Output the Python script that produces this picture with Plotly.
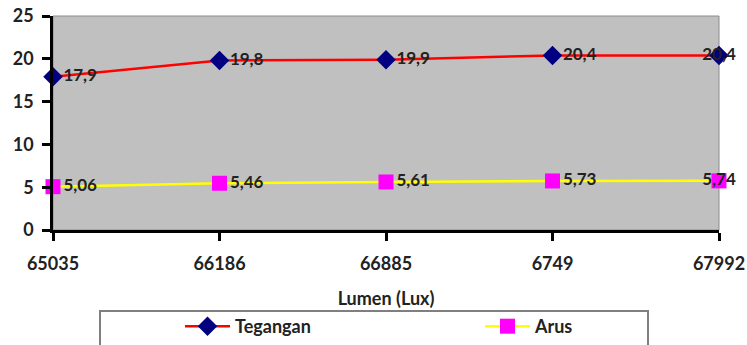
import plotly.graph_objects as go

categories = ["65035", "66186", "66885", "6749", "67992"]
tegangan = [17.9, 19.8, 19.9, 20.4, 20.4]
arus = [5.06, 5.46, 5.61, 5.73, 5.74]
tegangan_labels = ["17,9", "19,8", "19,9", "20,4", "20,4"]
arus_labels = ["5,06", "5,46", "5,61", "5,73", "5,74"]
y_ticks = [0, 5, 10, 15, 20, 25]

FONT = "Lato"
TXT = "#222222"
W, H = 747, 345
PX0, PX1, PY0, PY1 = 53, 719, 16, 230  # plot area in page pixels
L, T = PX0, PY0
R, B = W - PX1, H - PY1
pw, ph = PX1 - PX0, PY1 - PY0

def px_x(p):
    return (p - PX0) / pw

def px_y(p):
    return (PY1 - p) / ph

label_pos = ["middle right"] * 4 + ["middle center"]

fig = go.Figure()
fig.add_trace(go.Scatter(
    x=categories, y=tegangan, name="Tegangan", mode="lines+markers+text",
    line=dict(color="#ff0000", width=2.5),
    marker=dict(symbol="diamond", size=15, color="#000080"),
    text=tegangan_labels, textposition=label_pos,
    textfont=dict(family=FONT, size=17, color=TXT, weight="bold"),
    cliponaxis=False,
))
fig.add_trace(go.Scatter(
    x=categories, y=arus, name="Arus", mode="lines+markers+text",
    line=dict(color="#ffff00", width=2.5),
    marker=dict(symbol="square", size=15, color="#ff00ff"),
    text=arus_labels, textposition=label_pos,
    textfont=dict(family=FONT, size=17, color=TXT, weight="bold"),
    cliponaxis=False,
))

# legend box
fig.add_shape(type="rect", xref="paper", yref="paper",
              x0=px_x(100), x1=px_x(648), y0=px_y(360), y1=px_y(311),
              line=dict(color="#7f7f7f", width=2), fillcolor="white", layer="below")
# plot border (top/right)
fig.add_shape(type="rect", xref="paper", yref="paper", x0=0, x1=1, y0=0, y1=1,
              line=dict(color="#8c8c8c", width=1), layer="below")

fig.update_layout(
    width=W, height=H,
    margin=dict(l=L, r=R, t=T, b=B, autoexpand=False),
    paper_bgcolor="white", plot_bgcolor="#c0c0c0",
    font=dict(family=FONT, color=TXT),
    showlegend=True,
    legend=dict(orientation="h", x=px_x(180), xanchor="left", y=px_y(308), yanchor="top",
                entrywidth=240, entrywidthmode="pixels",
                font=dict(family=FONT, size=18, color=TXT, weight="bold"),
                bgcolor="rgba(0,0,0,0)", borderwidth=0, itemwidth=45),
)
fig.update_xaxes(type="category", range=[0, 4], showgrid=False, zeroline=False,
                 automargin=False, ticklabeloverflow="allow",
                 showline=True, linecolor="black", linewidth=2.5,
                 ticks="outside", ticklen=8, tickwidth=2.5, tickcolor="black",
                 tickfont=dict(family=FONT, size=18, color=TXT, weight="bold"),
                 ticklabelstandoff=8,
                 title=dict(text="Lumen (Lux)", standoff=20,
                            font=dict(family=FONT, size=18, color=TXT, weight="bold")))
fig.update_yaxes(range=[0, 25], tickvals=y_ticks, showgrid=False, zeroline=False,
                 automargin=False, ticklabeloverflow="allow",
                 showline=True, linecolor="black", linewidth=2.5,
                 ticks="outside", ticklen=8, tickwidth=2.5, tickcolor="black",
                 tickfont=dict(family=FONT, size=18, color=TXT, weight="bold"),
                 ticklabelstandoff=5)

fig.write_html("out.html", config={"displayModeBar": False},
               post_script="document.body.style.margin='0';document.body.style.overflow='hidden';")
